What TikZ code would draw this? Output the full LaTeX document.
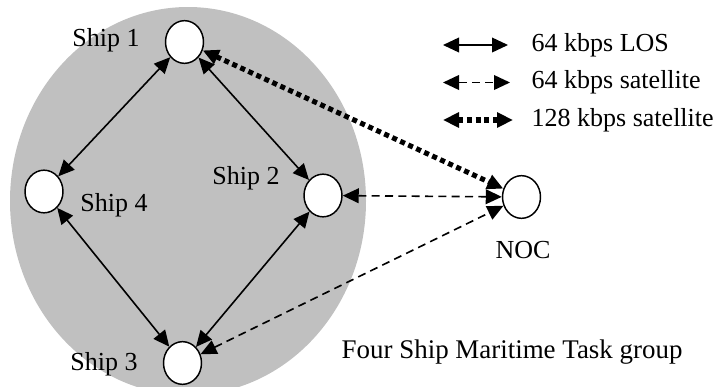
\documentclass[tikz,border=0pt]{standalone}
\usepackage{fontspec}
\setmainfont{Liberation Serif}
\usetikzlibrary{arrows.meta,shapes.geometric}
\definecolor{groupgray}{RGB}{192,192,192}
\begin{document}
\begin{tikzpicture}[x=0.75pt,y=-0.75pt,
  ship/.style={draw,ellipse,line width=1.1pt,fill=white,inner sep=0pt,
    minimum width=28.5pt,minimum height=32pt},
  lbl/.style={font=\fontsize{19.5}{23}\selectfont},
  link/.style={{Triangle[length=12pt,width=11pt]}-{Triangle[length=12pt,width=11pt]},line width=1.2pt},
  sat/.style={link,dash pattern=on 6pt off 4pt},
  wide/.style={link,line width=3.8pt,dash pattern=on 3.8pt off 2.8pt}]
  \clip (0,0) rectangle (717,386);
  \fill[groupgray] (188,201) ellipse [x radius=178,y radius=194];
  % ships and the operations centre
  \node[ship] (s1) at (184.5,42) {};
  \node[ship] (s2) at (323,195.5) {};
  \node[ship] (s3) at (182.5,363) {};
  \node[ship] (s4) at (44,191.5) {};
  \node[ship] (noc) at (521.5,197) {};
  \node[lbl] (t1) at (106,40) {Ship 1};
  \node[lbl] (t2) at (246,178) {Ship 2};
  \node[lbl] (t3) at (104,364) {Ship 3};
  \node[lbl] (t4) at (114,205) {Ship 4};
  \node[lbl] (tnoc) at (523,250) {NOC};
  \node[lbl,anchor=west,font=\fontsize{20.2}{24}\selectfont] (tgrp) at (337,352) {Four Ship Maritime Task group};
  % links
  \draw[link] (s1) -- (s4);
  \draw[link] (s1) -- (s2);
  \draw[link] (s3) -- (s4);
  \draw[link] (s3) -- (s2);
  \draw[sat] (s2) -- (noc);
  \draw[sat] (s3) -- (noc);
  \draw[wide] (s1) -- (noc);
  % legend
  \coordinate (k1a) at (443,45);  \coordinate (k1b) at (508,45);
  \coordinate (k2a) at (443,82.5); \coordinate (k2b) at (510,82.5);
  \coordinate (k3a) at (443,120); \coordinate (k3b) at (513,120);
  \draw[link] (k1a) -- (k1b);
  \draw[sat] (k2a) -- (k2b);
  \draw[wide] (k3a) -- (k3b);
  \node[lbl,anchor=west] (key1) at (527,45) {64 kbps LOS};
  \node[lbl,anchor=west] (key2) at (527,82.5) {64 kbps satellite};
  \node[lbl,anchor=west] (key3) at (527,120) {128 kbps satellite};
\end{tikzpicture}
\end{document}
